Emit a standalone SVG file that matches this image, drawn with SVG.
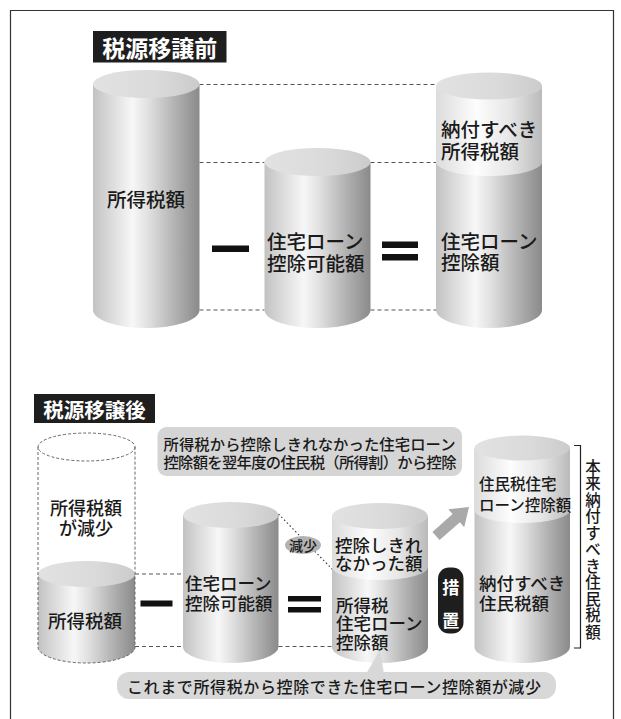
<svg xmlns="http://www.w3.org/2000/svg" width="621" height="719" viewBox="0 0 621 719">
<style>
.t{font-family:"Noto Sans CJK JP","Noto Sans CJK SC",sans-serif;font-weight:500;fill:#1a1a1a;dominant-baseline:central}
.big{font-size:19.5px}
.mid{font-size:17.5px}
.w{fill:#ffffff;font-weight:bold}
.dash{stroke:#555;stroke-width:1;stroke-dasharray:4 3;fill:none}
.ghost{stroke:#666;stroke-width:1;stroke-dasharray:3 2;fill:none}
.bar{fill:#111}
</style>
<defs>
<linearGradient id="gBody" x1="0" y1="0" x2="1" y2="0">
<stop offset="0" stop-color="#c2c2c2"/>
<stop offset="0.12" stop-color="#d4d4d4"/>
<stop offset="0.37" stop-color="#f7f7f7"/>
<stop offset="0.52" stop-color="#e0e0e0"/>
<stop offset="0.78" stop-color="#b0b0b0"/>
<stop offset="1" stop-color="#8a8a8a"/>
</linearGradient>
<linearGradient id="gLight" x1="0" y1="0" x2="1" y2="0">
<stop offset="0" stop-color="#dcdcdc"/>
<stop offset="0.38" stop-color="#fdfdfd"/>
<stop offset="0.7" stop-color="#e6e6e6"/>
<stop offset="1" stop-color="#bababa"/>
</linearGradient>
<linearGradient id="gTop" x1="0" y1="0" x2="1" y2="0">
<stop offset="0" stop-color="#e2e2e2"/>
<stop offset="0.6" stop-color="#dadada"/>
<stop offset="1" stop-color="#cbcbcb"/>
</linearGradient>
</defs>
<rect width="621" height="719" fill="#ffffff"/>
<path d="M10.5 719 V10.5 H613.5 V719" fill="none" stroke="#333" stroke-width="1.2"/>

<g id="connectors">
<line class="dash" x1="199.5" y1="84.5" x2="436" y2="84.5"/>
<line class="dash" x1="199.5" y1="162.5" x2="264.5" y2="162.5"/>
<line class="dash" x1="370.5" y1="162.5" x2="436" y2="162.5"/>
<line class="dash" x1="199.5" y1="310" x2="264.5" y2="310"/>
<line class="dash" x1="370.5" y1="310" x2="436" y2="310"/>
<line class="dash" x1="135" y1="574" x2="183" y2="574"/>
<line class="dash" x1="135" y1="646.5" x2="183" y2="646.5"/>
<line class="dash" x1="278.5" y1="646.5" x2="332" y2="646.5"/>
<line x1="278.5" y1="514" x2="333" y2="570" stroke="#333" stroke-width="1.1" stroke-dasharray="1.5 2.5"/>
<polygon points="432.4,531.9 452.6,514.1 448.3,509.2 469,507 464.2,527.2 459.9,522.3 439.6,540.1" fill="#a9a9a9"/>
<path d="M574 445.5 H580.5 V648 H574" fill="none" stroke="#222" stroke-width="1.2"/>
</g>

<g id="title-before">
<rect x="93" y="31" width="133.5" height="31.5" fill="#1e1e1e"/>
<text class="t w" x="159.75" y="47" font-size="23" text-anchor="middle">税源移譲前</text>
</g>

<g id="cyl-income-tax">
<path d="M93 84 V310 A53.25 18 0 0 0 199.5 310 V84 Z" fill="url(#gBody)"/>
<ellipse cx="146.25" cy="84" rx="53.25" ry="14" fill="url(#gTop)"/>
<text class="t big" x="146" y="198" text-anchor="middle">所得税額</text>
</g>

<g id="op-minus-1"><rect class="bar" x="212" y="245.5" width="37" height="6.5"/></g>

<g id="cyl-deductible">
<path d="M264.5 162 V310 A53 18 0 0 0 370.5 310 V162 Z" fill="url(#gBody)"/>
<ellipse cx="317.5" cy="162" rx="53" ry="14" fill="url(#gTop)"/>
<text class="t big" x="267" y="240">住宅ローン</text>
<text class="t big" x="267" y="262">控除可能額</text>
</g>

<g id="op-equals-1">
<rect class="bar" x="382" y="241.5" width="36" height="6.5"/>
<rect class="bar" x="382" y="254" width="36" height="6.5"/>
</g>

<g id="cyl-result">
<path d="M436 86 V310 A53 18 0 0 0 542 310 V86 Z" fill="url(#gBody)"/>
<path d="M436 86 V162 A53 14 0 0 0 542 162 V86 Z" fill="url(#gLight)"/>
<ellipse cx="489" cy="86" rx="53" ry="13.5" fill="url(#gTop)"/>
<text class="t big" x="441" y="128">納付すべき</text>
<text class="t big" x="441" y="150">所得税額</text>
<text class="t big" x="441" y="240">住宅ローン</text>
<text class="t big" x="441" y="261">控除額</text>
</g>

<g id="title-after">
<rect x="34" y="394" width="121" height="29" fill="#1e1e1e"/>
<text class="t w" x="94.5" y="408.5" font-size="20.5" text-anchor="middle">税源移譲後</text>
</g>

<g id="callout-top">
<rect x="157.5" y="427" width="304.5" height="49" rx="9" fill="#d5d5d5"/>
<text class="t" x="163.5" y="443" font-size="15.3" textLength="292">所得税から控除しきれなかった住宅ローン</text>
<text class="t" x="163.5" y="461" font-size="15.3" textLength="293">控除額を翌年度の住民税（所得割）から控除</text>
</g>

<g id="cyl-income-tax-after">
<path d="M38 574 V647 A48.5 16 0 0 0 135 647 V574 Z" fill="url(#gBody)"/>
<ellipse cx="86.5" cy="574" rx="48.5" ry="13" fill="url(#gTop)"/>
<text class="t" x="85" y="620" font-size="18.5" text-anchor="middle">所得税額</text>
</g>

<g id="ghost-decrease">
<ellipse class="ghost" cx="86.5" cy="447" rx="48.5" ry="14"/>
<path class="ghost" d="M38 447 V647 A48.5 16 0 0 0 135 647 V447"/>
<text class="t" x="86" y="507" font-size="18" text-anchor="middle">所得税額</text>
<text class="t" x="86" y="527" font-size="18" text-anchor="middle">が減少</text>
</g>

<g id="op-minus-2"><rect class="bar" x="140.5" y="600.5" width="32" height="6"/></g>

<g id="cyl-deductible-after">
<path d="M183 515 V647 A47.75 16 0 0 0 278.5 647 V515 Z" fill="url(#gBody)"/>
<ellipse cx="230.75" cy="515" rx="47.75" ry="13" fill="url(#gTop)"/>
<text class="t mid" x="185" y="582">住宅ローン</text>
<text class="t mid" x="185" y="602.5">控除可能額</text>
</g>

<g id="op-equals-2">
<rect class="bar" x="288" y="596" width="33" height="5.5"/>
<rect class="bar" x="288" y="607" width="33" height="5.5"/>
</g>

<g id="cyl-result-after">
<path d="M332 516 V647 A48 16 0 0 0 428 647 V516 Z" fill="url(#gBody)"/>
<path d="M332 516 V567 A48 13 0 0 0 428 567 V516 Z" fill="url(#gLight)"/>
<ellipse cx="380" cy="516" rx="48" ry="13" fill="url(#gTop)"/>
<text class="t mid" x="335" y="544">控除しきれ</text>
<text class="t mid" x="335" y="562.5">なかった額</text>
<text class="t mid" x="336" y="604">所得税</text>
<text class="t mid" x="336" y="622.5">住宅ローン</text>
<text class="t mid" x="336" y="641">控除額</text>
</g>

<g id="badge-decrease">
<ellipse cx="303" cy="545" rx="18" ry="9" fill="#b3b3b3"/>
<text class="t" x="303" y="545" font-size="14" text-anchor="middle">減少</text>
</g>

<g id="badge-measure">
<rect x="438" y="567.5" width="25.5" height="66" rx="11" fill="#1e1e1e"/>
<text class="t w" x="450.75" y="586" font-size="17" text-anchor="middle">措</text>
<text class="t w" x="450.75" y="619" font-size="17" text-anchor="middle">置</text>
</g>

<g id="cyl-resident">
<path d="M474.5 448 V647 A47.75 16 0 0 0 570 647 V448 Z" fill="url(#gBody)"/>
<path d="M474.5 448 V510 A47.75 13 0 0 0 570 510 V448 Z" fill="url(#gLight)"/>
<ellipse cx="522.25" cy="448" rx="47.75" ry="12.5" fill="url(#gTop)"/>
<text class="t" x="479" y="482.5" font-size="15.5">住民税住宅</text>
<text class="t" x="479" y="503.5" font-size="15.5">ローン控除額</text>
<text class="t mid" x="479" y="582.5">納付すべき</text>
<text class="t mid" x="479" y="602.5">住民税額</text>
</g>

<g id="label-vertical">
<text class="t" font-size="15.5" text-anchor="middle"><tspan x="593" y="465.5">本</tspan><tspan x="593" y="482">来</tspan><tspan x="593" y="498.5">納</tspan><tspan x="593" y="515">付</tspan><tspan x="593" y="531.5">す</tspan><tspan x="593" y="548">べ</tspan><tspan x="593" y="564.5">き</tspan><tspan x="593" y="581">住</tspan><tspan x="593" y="597.5">民</tspan><tspan x="593" y="614">税</tspan><tspan x="593" y="630.5">額</tspan></text>
</g>

<g id="callout-bottom">
<polygon points="366,674 384,674 380,650" fill="#d8d8d8"/>
<rect x="117" y="672" width="439" height="27" rx="12" fill="#d8d8d8"/>
<text class="t" x="127" y="686" font-size="16" textLength="414">これまで所得税から控除できた住宅ローン控除額が減少</text>
</g>
</svg>
